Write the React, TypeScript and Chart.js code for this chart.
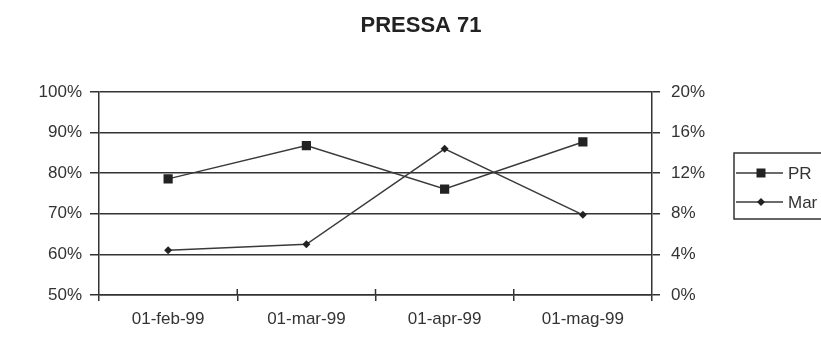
import React, { useEffect, useRef } from "react";
import { Chart, registerables } from "chart.js";

Chart.register(...registerables);

const titleText = "PRESSA 71";
const categories = ["01-feb-99", "01-mar-99", "01-apr-99", "01-mag-99"];
const prLabel = "PR";
const prValues = [78.6, 86.8, 76.1, 87.7];
const marLabel = "Mar";
const marValues = [4.4, 5.0, 14.4, 7.9];
const leftAxisMin = 50;
const leftAxisMax = 100;
const leftAxisStep = 10;
const rightAxisMin = 0;
const rightAxisMax = 20;
const rightAxisStep = 4;

const FONT = "'Liberation Sans', Arial, sans-serif";
const INK = "#333333";

const innerTickPlugin = {
  id: "innerTicks",
  afterDatasetsDraw(chart: any) {
    const xs = chart.scales.x;
    const ctx = chart.ctx as CanvasRenderingContext2D;
    const n = chart.data.labels.length;
    ctx.save();
    ctx.strokeStyle = INK;
    ctx.lineWidth = 1.5;
    for (let i = 1; i < n; i++) {
      const x = (xs.getPixelForValue(i - 1) + xs.getPixelForValue(i)) / 2;
      ctx.beginPath();
      ctx.moveTo(x, xs.top - 6);
      ctx.lineTo(x, xs.top);
      ctx.stroke();
    }
    ctx.restore();
  },
};

const legendPlugin = {
  id: "boxLegend",
  afterDraw(chart: any) {
    const ctx = chart.ctx as CanvasRenderingContext2D;
    const left = 734;
    const top = 153;
    const bottom = 219;
    ctx.save();
    ctx.strokeStyle = INK;
    ctx.lineWidth = 1.5;
    ctx.strokeRect(left, top, 120, bottom - top);
    const rows = [173, 202];
    chart.data.datasets.forEach((ds: any, i: number) => {
      const y = rows[i];
      ctx.strokeStyle = ds.borderColor;
      ctx.lineWidth = 1.5;
      ctx.beginPath();
      ctx.moveTo(left + 2, y);
      ctx.lineTo(left + 49, y);
      ctx.stroke();
      const cx = left + 27;
      ctx.fillStyle = ds.pointBackgroundColor;
      if (ds.pointStyle === "rect") {
        const s = 4.5;
        ctx.fillRect(cx - s, y - s, 2 * s, 2 * s);
      } else {
        const r = 4;
        ctx.beginPath();
        ctx.moveTo(cx, y - r);
        ctx.lineTo(cx + r, y);
        ctx.lineTo(cx, y + r);
        ctx.lineTo(cx - r, y);
        ctx.closePath();
        ctx.fill();
      }
      ctx.fillStyle = INK;
      ctx.font = `17px ${FONT}`;
      ctx.textBaseline = "middle";
      ctx.textAlign = "left";
      ctx.fillText(ds.label, left + 54, y + 1);
    });
    ctx.restore();
  },
};

export default function App() {
  const ref = useRef<HTMLCanvasElement | null>(null);

  useEffect(() => {
    if (!ref.current) return;
    const chart = new Chart(ref.current, {
      type: "line",
      data: {
        labels: categories,
        datasets: [
          {
            label: prLabel,
            data: prValues,
            yAxisID: "y",
            borderColor: "#3a3a3a",
            borderWidth: 1.5,
            pointStyle: "rect",
            pointRadius: 6.5,
            pointBackgroundColor: "#222222",
            pointBorderColor: "#222222",
            pointBorderWidth: 0,
            tension: 0,
          },
          {
            label: marLabel,
            data: marValues,
            yAxisID: "y1",
            borderColor: "#3a3a3a",
            borderWidth: 1.5,
            pointStyle: "rectRot",
            pointRadius: 4,
            pointBackgroundColor: "#222222",
            pointBorderColor: "#222222",
            pointBorderWidth: 0,
            tension: 0,
          },
        ],
      },
      options: {
        animation: false,
        responsive: false,
        layout: { padding: { left: 21, right: 0, top: 0, bottom: 0 } },
        plugins: {
          legend: { display: false },
          tooltip: { enabled: false },
          title: {
            display: true,
            text: titleText,
            color: "#222222",
            font: { family: FONT, size: 22, weight: "bold" },
            padding: { top: 13, bottom: 52.6 },
          },
        },
        scales: {
          x: {
            type: "category",
            offset: true,
            grid: {
              offset: true,
              drawOnChartArea: false,
              drawTicks: true,
              tickLength: 6,
              color: INK,
              lineWidth: 1.5,
            },
            border: { display: true, color: INK, width: 1.5 },
            ticks: {
              color: INK,
              font: { family: FONT, size: 17 },
              padding: 8,
              maxRotation: 0,
              autoSkip: false,
            },
            afterFit: (scale: any) => {
              scale.height = 51;
            },
          },
          y: {
            position: "left",
            min: leftAxisMin,
            max: leftAxisMax,
            ticks: {
              stepSize: leftAxisStep,
              color: INK,
              font: { family: FONT, size: 17 },
              padding: 8,
              callback: (v: any) => `${v}%`,
            },
            grid: {
              color: INK,
              lineWidth: 1.5,
              tickLength: 9,
              drawOnChartArea: true,
            },
            border: { display: true, color: INK, width: 1.5 },
            afterFit: (scale: any) => {
              scale.width = 78;
            },
          },
          y1: {
            position: "right",
            min: rightAxisMin,
            max: rightAxisMax,
            ticks: {
              stepSize: rightAxisStep,
              color: INK,
              font: { family: FONT, size: 17 },
              padding: 11,
              callback: (v: any) => `${v}%`,
            },
            grid: {
              color: INK,
              lineWidth: 1.5,
              tickLength: 8,
              drawOnChartArea: false,
            },
            border: { display: true, color: INK, width: 1.5 },
            afterFit: (scale: any) => {
              scale.width = 169;
            },
          },
        },
      },
      plugins: [innerTickPlugin, legendPlugin],
    } as any);
    return () => chart.destroy();
  }, []);

  return (
    <div
      style={{
        position: "fixed",
        left: 0,
        top: 0,
        width: 821,
        height: 346,
        background: "#ffffff",
        overflow: "hidden",
      }}
    >
      <canvas ref={ref} width={821} height={346} style={{ width: 821, height: 346, display: "block" }} />
    </div>
  );
}
